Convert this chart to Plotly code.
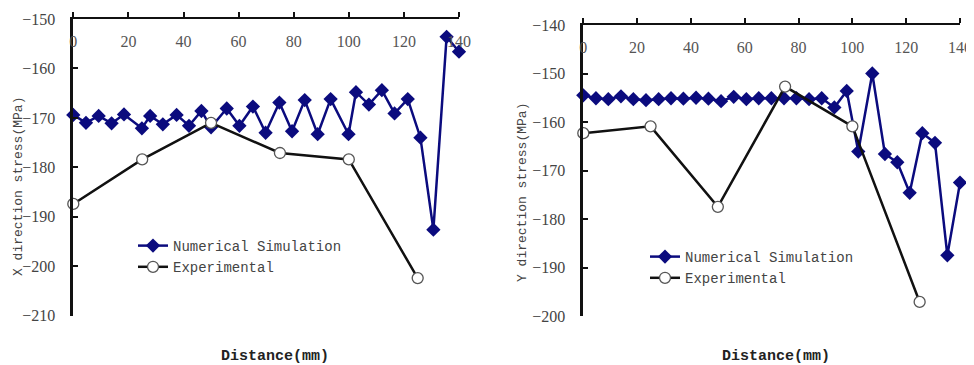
import plotly.graph_objects as go

# ---- Left chart: X direction stress ----
x_sim_left = [0, 4.6, 9.2, 13.9, 18.4, 24.9, 27.9, 32.5, 37.5, 42.0, 46.5, 50.0, 55.7, 60.3,
              65.2, 69.8, 74.8, 79.4, 84.0, 88.7, 93.4, 99.9, 102.6, 107.3, 112.0, 116.6,
              121.4, 126.0, 130.7, 135.5, 140.0]
y_sim_left = [-169.4, -171.0, -169.6, -171.1, -169.3, -172.1, -169.6, -171.3, -169.4, -171.6,
              -168.6, -171.9, -168.1, -171.6, -167.7, -173.0, -166.9, -172.7, -166.4, -173.3,
              -166.2, -173.3, -164.8, -167.3, -164.4, -169.1, -166.2, -174.0, -192.6, -153.6,
              -156.6]
x_exp_left = [0, 25, 50, 75, 100, 125]
y_exp_left = [-187.4, -178.4, -171.0, -177.1, -178.4, -202.4]

# ---- Right chart: Y direction stress ----
x_sim_right = [0, 4.7, 9.3, 14.0, 18.6, 23.3, 28.0, 32.6, 37.2, 41.9, 46.5, 51.2, 55.9, 60.6,
               65.2, 69.9, 74.6, 79.2, 83.9, 88.6, 93.3, 97.9, 102.2, 107.4, 112.1, 116.7,
               121.3, 126.0, 130.7, 135.3, 140.0]
y_sim_right = [-154.5, -155.1, -155.3, -154.7, -155.3, -155.5, -155.3, -155.1, -155.2, -155.0,
               -155.2, -155.7, -154.8, -155.3, -155.1, -155.1, -155.1, -155.1, -155.3, -155.1,
               -157.0, -153.6, -166.1, -150.0, -166.6, -168.3, -174.6, -162.3, -164.3, -187.5,
               -172.5]
x_exp_right = [0, 25, 50, 75, 100, 125]
y_exp_right = [-162.3, -160.9, -177.5, -152.7, -160.9, -197.1]

x_ticks = [0, 20, 40, 60, 80, 100, 120, 140]
y_ticks_left = [-150, -160, -170, -180, -190, -200, -210]
y_ticks_right = [-140, -150, -160, -170, -180, -190, -200]

SIM_COLOR = "#0b0b7e"
MONO = "Liberation Mono"
SERIF = "Liberation Serif"

fig = go.Figure()

def add_pair(xs, ys, xe, ye, xa, ya, leg):
    fig.add_trace(go.Scatter(
        x=xs, y=ys, mode="lines+markers", name="Numerical Simulation",
        line=dict(color=SIM_COLOR, width=2.5),
        marker=dict(symbol="diamond", size=11, color=SIM_COLOR),
        xaxis=xa, yaxis=ya, legend=leg, cliponaxis=False))
    fig.add_trace(go.Scatter(
        x=xe, y=ye, mode="lines+markers", name="Experimental",
        line=dict(color="#111111", width=2.5),
        marker=dict(symbol="circle", size=11, color="white",
                    line=dict(color="#555555", width=1.3)),
        xaxis=xa, yaxis=ya, legend=leg, cliponaxis=False))

add_pair(x_sim_left, y_sim_left, x_exp_left, y_exp_left, "x", "y", "legend")
add_pair(x_sim_right, y_sim_right, x_exp_right, y_exp_right, "x2", "y2", "legend2")

# The page body has an 8px margin, so the figure is drawn 8px in from the window corner.
OFF = 8
W, H = 974 - OFF, 365 - OFF

def px(x):
    return (x - OFF) / W

def py(y):
    return (H - (y - OFF)) / H

def xaxis_cfg(x0, x1, anchor):
    return dict(domain=[px(x0), px(x1)], range=[0, 140], side="top", anchor=anchor,
                tickvals=x_ticks, ticks="outside", ticklen=5, tickwidth=1.5,
                tickcolor="#111", showline=True, linecolor="#111", linewidth=2,
                showgrid=False, zeroline=False, ticklabelposition="inside",
                ticklabelstandoff=17, ticklabeloverflow="allow", automargin=False,
                tickfont=dict(family=SERIF, size=16, color="#555"))

def yaxis_cfg(y0, y1, rng, ticks, anchor):
    return dict(domain=[py(y1), py(y0)], range=rng, anchor=anchor,
                tickvals=ticks, ticks="inside", ticklen=5, tickwidth=1.5,
                tickcolor="#111", showline=True, linecolor="#111", linewidth=2.5,
                showgrid=False, zeroline=False, ticklabelstandoff=12,
                ticklabeloverflow="allow", automargin=False,
                tickfont=dict(family=SERIF, size=16, color="#444"))

fig.update_layout(
    width=W, height=H,
    margin=dict(l=0, r=0, t=0, b=0, autoexpand=False),
    paper_bgcolor="white", plot_bgcolor="white",
    xaxis=xaxis_cfg(73.3, 459, "y"),
    yaxis=yaxis_cfg(19, 315.7, [-210, -150], y_ticks_left, "x"),
    xaxis2=xaxis_cfg(583.3, 960, "y2"),
    yaxis2=yaxis_cfg(25, 316, [-200, -140], y_ticks_right, "x2"),
    legend=dict(x=px(133), y=py(230), xanchor="left", yanchor="top",
                bgcolor="rgba(0,0,0,0)", itemwidth=30, tracegroupgap=0,
                font=dict(family=MONO, size=14, color="#444")),
    legend2=dict(x=px(645), y=py(241), xanchor="left", yanchor="top",
                 bgcolor="rgba(0,0,0,0)", itemwidth=30, tracegroupgap=0,
                 font=dict(family=MONO, size=14, color="#444")),
    showlegend=True,
)

annots = [
    dict(text="<b>Distance(mm)</b>", x=275, y=356, size=15, color="#222"),
    dict(text="<b>Distance(mm)</b>", x=776, y=356, size=15, color="#222"),
    dict(text="X direction stress(MPa)", x=18, y=187, textangle=-90, size=13, color="#444"),
    dict(text="Y direction stress(MPa)", x=523, y=193, textangle=-90, size=13, color="#444"),
]
for a in annots:
    fig.add_annotation(
        xref="paper", yref="paper", showarrow=False, xanchor="center", yanchor="middle",
        text=a["text"], x=px(a["x"]), y=py(a["y"]), textangle=a.get("textangle", 0),
        font=dict(family=MONO, size=a["size"], color=a["color"]))

fig.write_html("out.html")
